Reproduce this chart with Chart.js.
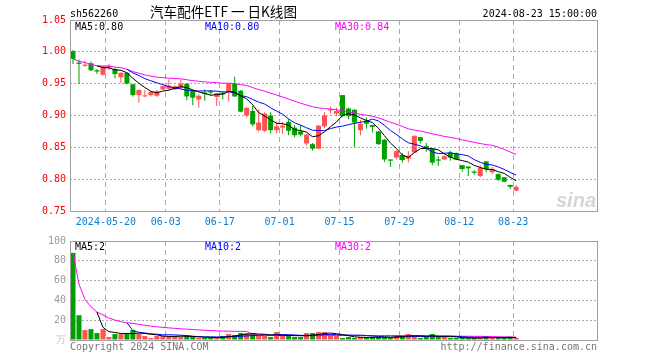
<!DOCTYPE html>
<html lang="zh">
<head>
    <meta charset="UTF-8">
    <title>汽车配件ETF 日K线图</title>
    <script src="https://cdn.jsdelivr.net/npm/chart.js@4"></script>
    <style>
        body { margin: 0; background: #fff; }
        #wrap { position: relative; width: 660px; height: 360px; }
        #kline { position: absolute; left: 0; top: 0; }
        #vol { position: absolute; left: 0; top: 230px; }
    </style>
</head>
<body>
<div id="wrap">
    <canvas id="kline" width="660" height="230"></canvas>
    <canvas id="vol" width="660" height="130"></canvas>
</div>
<script>
// 日K数据 (2024-05-10 ~ 2024-08-23)
const openP = [1.001,0.983,0.978,0.982,0.971,0.964,0.975,0.973,0.960,0.967,
    0.949,0.932,0.930,0.932,0.931,0.941,0.942,0.941,0.943,0.950,
    0.940,0.925,0.936,0.938,0.929,0.935,0.937,0.950,0.939,0.900,
    0.907,0.877,0.876,0.900,0.877,0.881,0.890,0.881,0.875,0.856,
    0.855,0.848,0.883,0.908,0.903,0.932,0.911,0.909,0.877,0.892,
    0.885,0.875,0.862,0.831,0.834,0.838,0.832,0.842,0.866,0.852,
    0.848,0.831,0.831,0.842,0.841,0.822,0.820,0.812,0.805,0.828,
    0.811,0.808,0.803,0.791,0.782];
const highP = [1.003,0.988,0.986,0.985,0.973,0.978,0.981,0.975,0.968,0.968,
    0.950,0.941,0.940,0.939,0.940,0.947,0.957,0.947,0.956,0.951,
    0.940,0.933,0.941,0.940,0.936,0.938,0.951,0.961,0.940,0.913,
    0.915,0.910,0.905,0.905,0.891,0.890,0.894,0.885,0.885,0.871,
    0.857,0.885,0.905,0.914,0.912,0.932,0.912,0.910,0.893,0.897,
    0.885,0.875,0.863,0.831,0.846,0.841,0.844,0.869,0.866,0.857,
    0.849,0.836,0.837,0.845,0.842,0.822,0.820,0.814,0.822,0.828,
    0.819,0.809,0.803,0.791,0.791];
const lowP = [0.981,0.950,0.976,0.970,0.965,0.963,0.971,0.958,0.951,0.949,
    0.930,0.920,0.929,0.930,0.929,0.940,0.940,0.940,0.942,0.924,
    0.916,0.912,0.923,0.932,0.915,0.925,0.922,0.929,0.905,0.897,
    0.883,0.875,0.874,0.872,0.872,0.871,0.869,0.866,0.867,0.853,
    0.845,0.847,0.880,0.903,0.899,0.898,0.894,0.850,0.869,0.879,
    0.873,0.854,0.827,0.819,0.831,0.826,0.826,0.841,0.856,0.843,
    0.822,0.821,0.830,0.829,0.830,0.812,0.805,0.807,0.803,0.811,
    0.808,0.797,0.795,0.784,0.781];
const closeP = [0.989,0.981,0.980,0.971,0.969,0.976,0.978,0.965,0.967,0.950,
    0.932,0.940,0.931,0.937,0.938,0.946,0.947,0.946,0.950,0.930,
    0.928,0.931,0.934,0.936,0.935,0.933,0.950,0.930,0.906,0.912,
    0.886,0.889,0.903,0.877,0.883,0.884,0.876,0.869,0.870,0.870,
    0.848,0.884,0.900,0.910,0.907,0.899,0.899,0.889,0.887,0.887,
    0.882,0.855,0.831,0.829,0.844,0.830,0.837,0.868,0.860,0.848,
    0.826,0.829,0.836,0.834,0.831,0.816,0.817,0.810,0.818,0.816,
    0.816,0.799,0.796,0.788,0.788];
// 成交量 (万)
const volume = [88,25,10,11,7,11,3,6,6,7,
    10,6,4,2,4,4,4,4,3,4,
    3,2,2,2,3,4,6,5,7,7,
    7,4,4,3,8,4,4,3,3,7,
    7,8,8,5,4,2,3,2,3,3,
    3,3,3,2,5,4,6,4,2,3,
    6,3,3,2,2,2,2,2,2,4,
    2,3,2,3,2];

// 日期刻度: 对应的K线序号和文字
const tickIndex = [6, 16, 25, 35, 45, 55, 65, 74];
const tickLabels = ['2024-05-20', '06-03', '06-17', '07-01', '07-15', '07-29', '08-12', '08-23'];
const priceTicks = [0.75, 0.80, 0.85, 0.90, 0.95, 1.00, 1.05];
const volTicks = [0, 20, 40, 60, 80, 100];
const maTextPrice = ['MA5:0.80', 'MA10:0.80', 'MA30:0.84'];
const maTextVol = ['MA5:2', 'MA10:2', 'MA30:2'];

const RED = '#ff5252';
const GREEN = '#00a000';
const MONO = '"DejaVu Sans Mono", monospace';
const SLOTS = 88;

const up = closeP.map((c, i) => c >= openP[i]);

// 均线 (MA30 在数据不足30天时按已有天数平均)
function ma(arr, n, partial) {
    return arr.map((v, i) => {
        if (i < n - 1 && !partial) return null;
        const s = arr.slice(Math.max(0, i - n + 1), i + 1);
        return s.reduce((a, b) => a + b, 0) / s.length;
    });
}
const pts = arr => arr.map((v, i) => ({ x: i, y: v }));

function lineSet(data, color) {
    return {
        type: 'line', data: pts(data), borderColor: color, borderWidth: 1,
        pointRadius: 0, tension: 0, spanGaps: false, order: 0
    };
}

// 边框
const framePlugin = {
    id: 'frame',
    afterDatasetsDraw(chart) {
        const { ctx, chartArea: a } = chart;
        ctx.save();
        ctx.strokeStyle = '#a0a0a0';
        ctx.lineWidth = 1;
        ctx.strokeRect(a.left + 0.5, a.top + 0.5, a.right - a.left, a.bottom - a.top);
        ctx.restore();
    }
};

// 文字
const textPlugin = {
    id: 'texts',
    afterDraw(chart, args, opts) {
        const ctx = chart.ctx;
        ctx.save();
        (opts.items || []).forEach(t => {
            ctx.font = t.font || ('10px ' + MONO);
            ctx.fillStyle = t.color || '#000';
            ctx.textAlign = t.align || 'left';
            ctx.textBaseline = 'alphabetic';
            if (t.maxWidth) ctx.fillText(t.text, t.x, t.y, t.maxWidth);
            else ctx.fillText(t.text, t.x, t.y);
        });
        ctx.restore();
    }
};

function xScale(showLabels, height) {
    return {
        type: 'linear', min: -0.5, max: SLOTS - 0.5, offset: false,
        afterBuildTicks: s => { s.ticks = tickIndex.map(i => ({ value: i - 0.5 })); },
        afterFit: s => { s.height = height; },
        grid: { offset: false, color: '#aaa', lineWidth: 1, drawTicks: false },
        border: { display: false, dash: [5, 4] },
        ticks: {
            display: showLabels, autoSkip: false, maxRotation: 0, minRotation: 0, padding: 5,
            color: '#0a7ed2', font: { family: MONO, size: 10 },
            callback: (v, i) => tickLabels[i]
        }
    };
}

// K线图
new Chart(document.getElementById('kline'), {
    type: 'bar',
    data: {
        datasets: [
            lineSet(ma(closeP, 5), '#000000'),
            lineSet(ma(closeP, 10), '#0000ff'),
            lineSet(ma(closeP, 30, true), '#ff00ff'),
            {
                data: openP.map((o, i) => ({ x: i, y: [o, closeP[i]] })),
                backgroundColor: c => up[c.dataIndex] ? RED : GREEN,
                barThickness: 5, minBarLength: 1, grouped: false, inflateAmount: 0,
                borderWidth: 0, order: 1
            },
            {
                data: lowP.map((l, i) => ({ x: i, y: [l, highP[i]] })),
                backgroundColor: c => up[c.dataIndex] ? RED : GREEN,
                barThickness: 1, grouped: false, inflateAmount: 0,
                borderWidth: 0, order: 2
            }
        ]
    },
    options: {
        responsive: false, animation: false, devicePixelRatio: 1, events: [],
        layout: { padding: { top: 20, right: 63, left: 0, bottom: 0 } },
        plugins: {
            legend: { display: false },
            tooltip: { enabled: false },
            texts: {
                items: [
                    { text: 'sh562260', x: 70, y: 17 },
                    { text: '汽车配件ETF 一 日K线图', x: 150, y: 17, font: '14px "Noto Sans CJK SC"', maxWidth: 147 },
                    { text: '2024-08-23 15:00:00', x: 597, y: 17, align: 'right' },
                    { text: maTextPrice[0], x: 75, y: 30, color: '#000' },
                    { text: maTextPrice[1], x: 205, y: 30, color: '#0000ff' },
                    { text: maTextPrice[2], x: 335, y: 30, color: '#ff00ff' },
                    { text: 'sina', x: 596, y: 207, align: 'right', color: '#d6d6d6', font: 'italic bold 20px "Liberation Sans"' }
                ]
            }
        },
        scales: {
            x: xScale(true, 19),
            y: {
                min: 0.75, max: 1.05,
                afterBuildTicks: s => { s.ticks = priceTicks.map(v => ({ value: v })); },
                afterFit: s => { s.width = 70; },
                grid: {
                    drawTicks: false, lineWidth: 1,
                    color: c => (c.index === 0 || c.index === priceTicks.length - 1) ? 'rgba(0,0,0,0)' : '#aaa'
                },
                border: { display: false, dash: [2, 2] },
                ticks: {
                    padding: 4, color: '#ff0000', font: { family: MONO, size: 10 },
                    callback: (v, i) => priceTicks[i].toFixed(2)
                }
            }
        }
    },
    plugins: [framePlugin, textPlugin]
});

// 成交量图
new Chart(document.getElementById('vol'), {
    type: 'bar',
    data: {
        datasets: [
            lineSet(ma(volume, 5), '#000000'),
            lineSet(ma(volume, 10), '#0000ff'),
            lineSet(ma(volume, 30, true), '#ff00ff'),
            {
                data: pts(volume),
                backgroundColor: c => up[c.dataIndex] ? RED : GREEN,
                barThickness: 5, grouped: false, inflateAmount: 0,
                borderWidth: 0, order: 1
            }
        ]
    },
    options: {
        responsive: false, animation: false, devicePixelRatio: 1, events: [],
        layout: { padding: { top: 11, right: 63, left: 0, bottom: 0 } },
        plugins: {
            legend: { display: false },
            tooltip: { enabled: false },
            texts: {
                items: [
                    { text: maTextVol[0], x: 75, y: 20, color: '#000' },
                    { text: maTextVol[1], x: 205, y: 20, color: '#0000ff' },
                    { text: maTextVol[2], x: 335, y: 20, color: '#ff00ff' },
                    { text: 'Copyright 2024 SINA.COM', x: 70, y: 120, color: '#777' },
                    { text: 'http://finance.sina.com.cn', x: 597, y: 120, align: 'right', color: '#777' }
                ]
            }
        },
        scales: {
            x: xScale(false, 20),
            y: {
                min: 0, max: 100,
                afterBuildTicks: s => { s.ticks = volTicks.map(v => ({ value: v })); },
                afterFit: s => { s.width = 70; },
                grid: {
                    drawTicks: false, lineWidth: 1,
                    color: c => (c.index === 0 || c.index === volTicks.length - 1) ? 'rgba(0,0,0,0)' : '#aaa'
                },
                border: { display: false, dash: [2, 2] },
                ticks: {
                    padding: 4, font: { family: MONO, size: 10 },
                    color: c => c.index === 0 ? '#c8c8c8' : '#999',
                    callback: (v, i) => i === 0 ? '万' : String(volTicks[i])
                }
            }
        }
    },
    plugins: [framePlugin, textPlugin]
});
</script>
</body>
</html>
